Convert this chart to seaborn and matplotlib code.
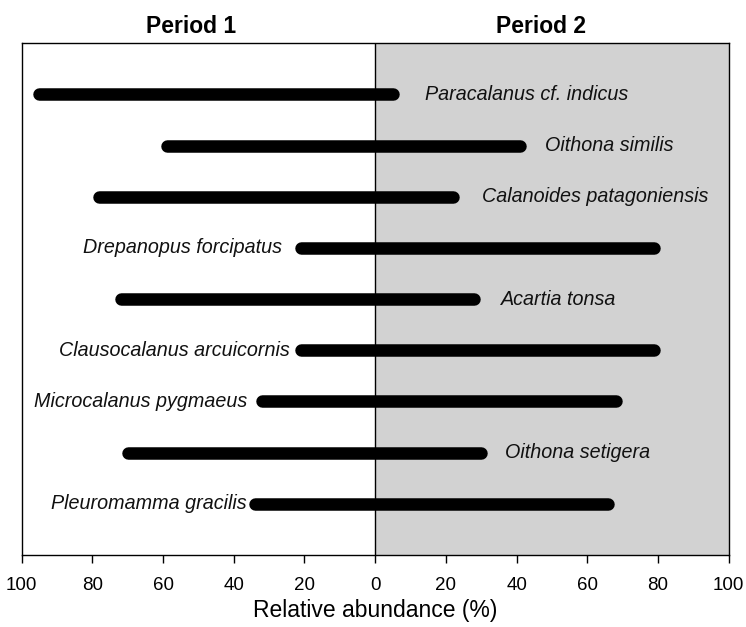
import matplotlib
matplotlib.use("Agg")
import matplotlib.pyplot as plt
import matplotlib.transforms as mt
import seaborn as sns
import pandas as pd

# ---- data ----
species = ["Paracalanus cf. indicus", "Oithona similis", "Calanoides patagoniensis",
           "Drepanopus forcipatus", "Acartia tonsa", "Clausocalanus arcuicornis",
           "Microcalanus pygmaeus", "Oithona setigera", "Pleuromamma gracilis"]
period1 = [95, 59, 78, 21, 72, 21, 32, 70, 34]   # % in period 1 (drawn leftwards)
period2 = [5, 41, 22, 79, 28, 79, 68, 30, 66]    # % in period 2 (drawn rightwards)
label_side = ["right", "right", "right", "left", "right", "left", "left", "right", "left"]
label_gap = [7.4, 5.4, 6.6, 3.7, 5.7, 1.3, 2.5, 5.0, 0.6]  # layout: gap between bar cap and text
tick_values = [-100, -80, -60, -40, -20, 0, 20, 40, 60, 80, 100]
tick_labels = ["100", "80", "60", "40", "20", "0", "20", "40", "60", "80", "100"]

rows = []
for i, (sp, a, b) in enumerate(zip(species, period1, period2)):
    rows.append({"species": sp, "x": -a, "y": i})
    rows.append({"species": sp, "x": b, "y": i})
df = pd.DataFrame(rows)

sns.set_theme(style="white")
plt.rcParams["font.family"] = ["Liberation Sans", "DejaVu Sans"]

fig = plt.figure(figsize=(7.46, 6.27), dpi=100)
ax = fig.add_axes([0.0290, 0.1148, 0.9478, 0.8162])

ax.axvspan(0, 100, color="#d2d2d2", zorder=0, lw=0)
ax.axvline(0, color="black", lw=1.0, zorder=1)

sns.lineplot(data=df, x="x", y="y", units="species", estimator=None, sort=False,
             color="black", lw=9, solid_capstyle="round", ax=ax, zorder=3, legend=False)

cap = 1.75
for i, (sp, a, b, side, g) in enumerate(zip(species, period1, period2, label_side, label_gap)):
    if side == "right":
        ax.text(b + cap + g, i, sp, ha="left", va="center", fontsize=14.2,
                style="italic", color="#111111")
    else:
        ax.text(-a - cap - g, i, sp, ha="right", va="center", fontsize=14.2,
                style="italic", color="#111111")

ax.set_xlim(-100, 100)
ax.set_ylim(9, -1)
ax.set_yticks([])
ax.set_xticks(tick_values)
ax.set_xticklabels(tick_labels, fontsize=13.5)
ax.tick_params(axis="x", direction="out", length=5.5, width=1, pad=10, colors="black",
               bottom=True)
ax.set_xlabel("Relative abundance (%)", fontsize=16.5, labelpad=4, color="black")
ax.set_ylabel("")
for s in ax.spines.values():
    s.set_visible(True)
    s.set_color("black")
    s.set_linewidth(1.0)

tr = mt.blended_transform_factory(ax.transData, fig.transFigure)
ax.text(-52, 0.947, "Period 1", transform=tr, ha="center", va="baseline",
        fontsize=16.5, fontweight="bold", color="black")
ax.text(47, 0.947, "Period 2", transform=tr, ha="center", va="baseline",
        fontsize=16.5, fontweight="bold", color="black")

fig.savefig("out.png", dpi=100)
